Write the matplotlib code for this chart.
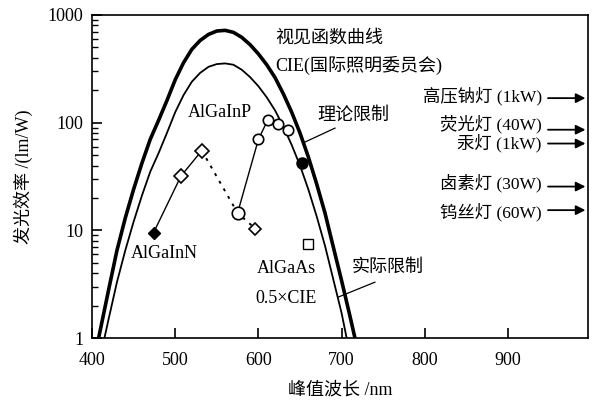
import matplotlib
matplotlib.use('Agg')
import matplotlib.pyplot as plt
from matplotlib.ticker import LogLocator, NullFormatter, FixedLocator

plt.rcParams['font.family'] = ['Liberation Serif', 'Noto Sans CJK SC']

# CIE luminosity curve (theoretical limit)
cie_wl = [408, 420, 430, 440, 450, 460, 470, 480, 490, 500, 510, 520, 530, 540,
          550, 560, 570, 580, 590, 600, 610, 620, 630, 640, 650, 660, 670, 680,
          690, 700, 710, 716]
cie_eff = [1.0, 2.8, 6.5, 13, 24, 42, 70, 105, 160, 250, 360, 480, 580, 660,
           710, 720, 690, 620, 530, 435, 345, 262, 185, 125, 80, 48, 27, 14.5,
           7.0, 3.4, 1.6, 1.0]
# 0.5 x CIE curve (practical limit)
half_wl = [415, 420, 430, 440, 450, 460, 470, 480, 490, 500, 510, 520, 530, 540,
           550, 560, 570, 580, 590, 600, 610, 620, 630, 640, 650, 660, 670, 680,
           690, 700, 706]
half_eff = [1.0, 1.5, 3.3, 6.5, 12, 21, 35, 52, 80, 125, 180, 240, 290, 330,
            350, 355, 345, 310, 265, 218, 172, 130, 92, 62, 40, 24, 13.5, 7.2,
            3.5, 1.7, 1.0]

# LED data
ingan_wl = [474, 507, 532]
ingan_eff = [9.5, 32, 55]
dotted_wl = [532, 575, 596]
dotted_eff = [55, 14.5, 10.4]
algainp_wl = [575, 600, 611, 624, 636]
algainp_eff = [14.5, 70, 105, 97, 85]
red_wl = [652]
red_eff = [42]
algaas_wl = [660]
algaas_eff = [7.5]

# conventional lamps
lamp_labels = ['高压钠灯 (1kW)', '荧光灯 (40W)', '汞灯 (1kW)', '卤素灯 (30W)', '钨丝灯 (60W)']
lamp_eff = [169, 86, 64, 25.5, 15.4]

xticks = [400, 500, 600, 700, 800, 900]
yticks = [1, 10, 100, 1000]
ytick_labels = ['1', '10', '100', '1000']

fig = plt.figure(figsize=(5.98, 4.01), dpi=100)
ax = fig.add_axes([0.1538, 0.1571, 0.8294, 0.8055])

ax.plot(cie_wl, cie_eff, color='black', lw=2.6, solid_capstyle='butt')
ax.plot(half_wl, half_eff, color='black', lw=1.3)

ax.plot(ingan_wl, ingan_eff, color='black', lw=1.0)
ax.plot(dotted_wl, dotted_eff, color='black', lw=1.4, ls=(0, (1.5, 3)))
ax.plot(algainp_wl, algainp_eff, color='black', lw=1.0)

ax.plot(ingan_wl[:1], ingan_eff[:1], 'D', ms=6, color='black')
ax.plot(ingan_wl[1:], ingan_eff[1:], 'D', ms=7, mfc='white', mec='black', mew=1.2)
ax.plot(dotted_wl[2:], dotted_eff[2:], 'D', ms=6, mfc='white', mec='black', mew=1.2)
ax.plot(algainp_wl[:1], algainp_eff[:1], 'o', ms=9, mfc='white', mec='black', mew=1.2)
ax.plot(algainp_wl[1:], algainp_eff[1:], 'o', ms=7.5, mfc='white', mec='black', mew=1.2)
ax.plot(red_wl, red_eff, 'o', ms=8, color='black')
ax.plot(algaas_wl, algaas_eff, 's', ms=7, mfc='white', mec='black', mew=1.0)

# lamp arrows and labels (label vertical placement in axes fraction)
label_pos = [0.749, 0.663, 0.604, 0.480, 0.390]
for lab, v, yp in zip(lamp_labels, lamp_eff, label_pos):
    ax.annotate('', xy=(993, v), xytext=(948, v),
                arrowprops=dict(arrowstyle='-|>', lw=1.3, color='black',
                                mutation_scale=14, shrinkA=0, shrinkB=0))
    ax.text(0.907, yp, lab, transform=ax.transAxes, fontsize=12.5,
            ha='right', va='center')

# leader lines
ax.plot([692, 654], [89, 65], color='black', lw=0.9)
ax.plot([740, 696], [3.3, 2.4], color='black', lw=0.9)

ta = ax.transAxes
ax.text(0.369, 0.929, '视见函数曲线', transform=ta, fontsize=13, ha='left', va='center')
ax.text(0.369, 0.845, 'CIE(国际照明委员会)', transform=ta, fontsize=13, ha='left', va='center')
ax.text(0.526, 0.690, '理论限制', transform=ta, fontsize=13, ha='center', va='center')
ax.text(0.258, 0.697, 'AlGaInP', transform=ta, fontsize=13, ha='center', va='center')
ax.text(0.145, 0.263, 'AlGaInN', transform=ta, fontsize=13, ha='center', va='center')
ax.text(0.391, 0.214, 'AlGaAs', transform=ta, fontsize=13, ha='center', va='center')
ax.text(0.391, 0.121, '0.5×CIE', transform=ta, fontsize=13, ha='center', va='center')
ax.text(0.597, 0.220, '实际限制', transform=ta, fontsize=13, ha='center', va='center')

ax.set_yscale('log')
ax.set_xlim(400, 996)
ax.set_ylim(1, 1000)
ax.set_xticks(xticks)
ax.set_xticklabels([str(x) for x in xticks])
ax.yaxis.set_major_locator(FixedLocator(yticks))
ax.set_yticklabels(ytick_labels)
ax.yaxis.set_minor_locator(LogLocator(base=10, subs=range(2, 10)))
ax.yaxis.set_minor_formatter(NullFormatter())
ax.tick_params(axis='both', which='major', direction='in', length=7, width=1.2,
               labelsize=13, top=False, right=False)
ax.tick_params(axis='x', which='major', pad=10)
ax.tick_params(axis='y', which='major', pad=6)
ax.tick_params(axis='y', which='minor', direction='in', length=4, width=1.0, right=False)
for s in ax.spines.values():
    s.set_linewidth(1.2)

ax.set_xlabel('峰值波长 /nm', fontsize=13, labelpad=9)
ax.set_ylabel('发光效率 /(lm/W)', fontsize=13, labelpad=11)

fig.savefig('out.png', dpi=100)
